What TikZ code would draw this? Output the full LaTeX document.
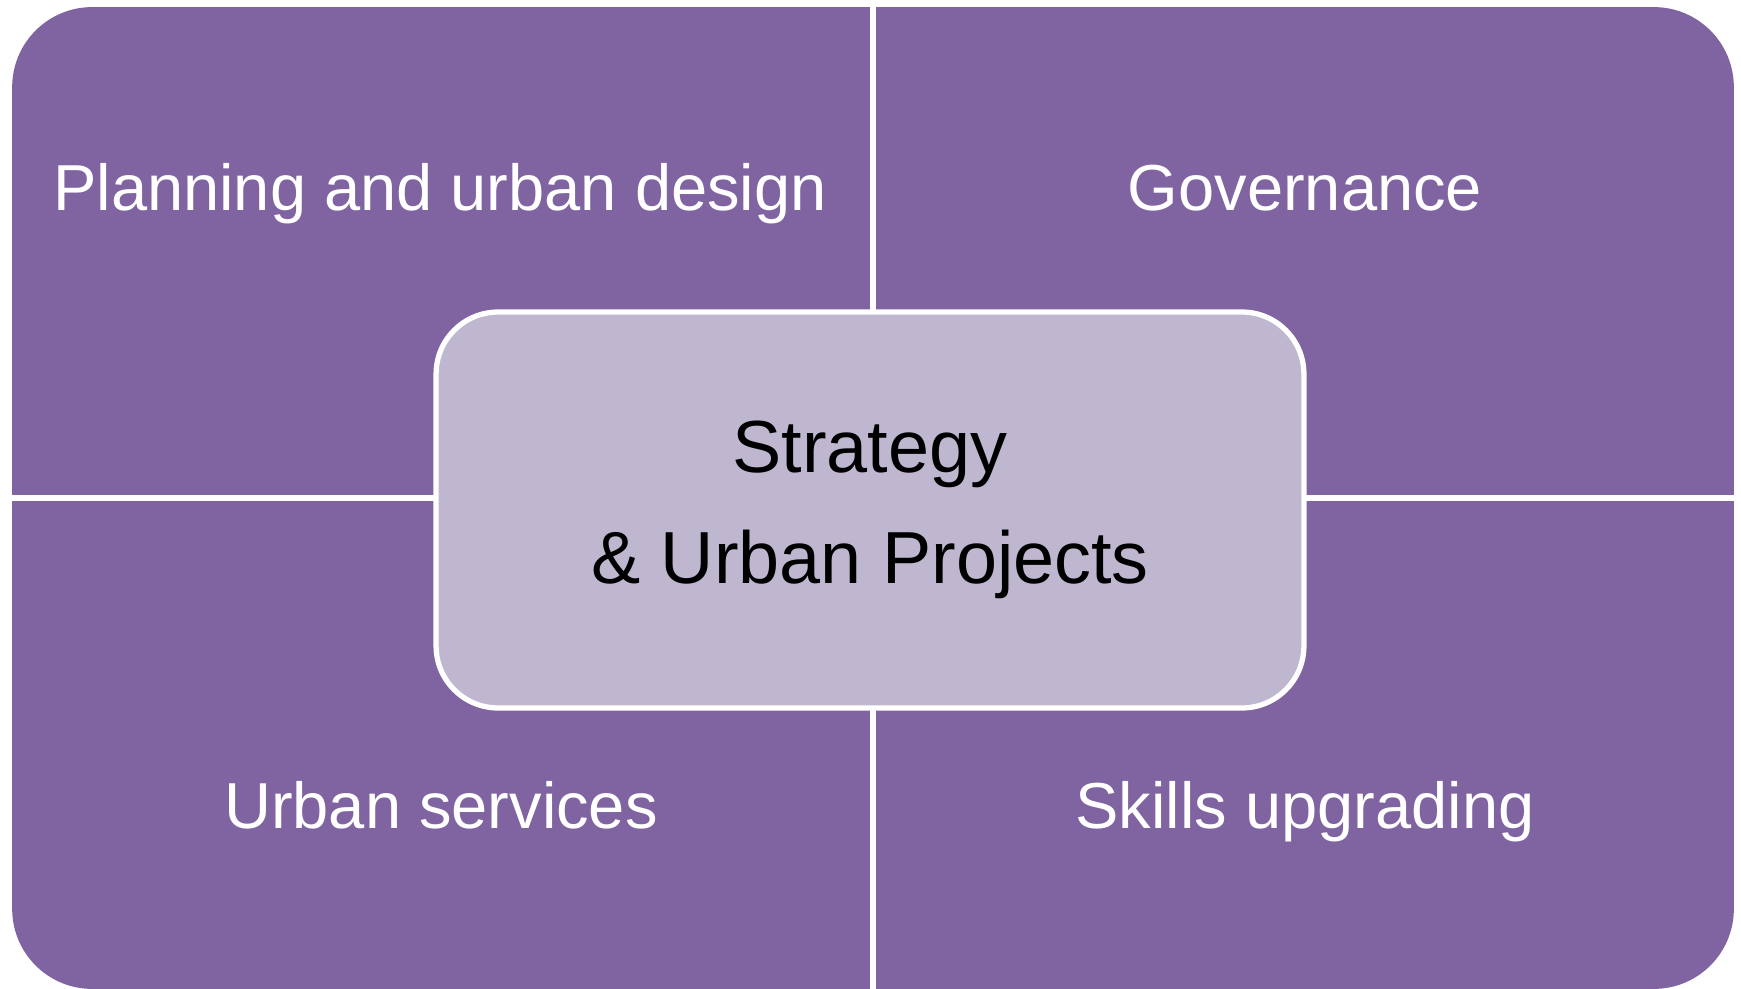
\documentclass[tikz,border=0pt]{standalone}
\usepackage{fontspec}
\setmainfont{Liberation Sans}
\usetikzlibrary{positioning}
\definecolor{quadpurple}{RGB}{128,100,162}
\definecolor{hublilac}{RGB}{191,183,207}

\begin{document}
\begin{tikzpicture}[x=0.02cm, y=-0.02cm,
 outerframe/.style={fill=quadpurple, rounded corners=1.6cm,
          minimum width=34.44cm, minimum height=19.64cm, inner sep=0pt},
 divider/.style={draw=white, line width=3pt},
 hubbox/.style={draw=white, fill=hublilac, line width=3pt,
          rounded corners=1.24cm, minimum width=17.36cm,
          minimum height=7.92cm, align=center, text=black,
          font=\fontsize{42}{63}\selectfont},
 quadlabel/.style={anchor=base, text=white, inner sep=0pt,
          font=\fontsize{37}{44}\selectfont}
]
\useasboundingbox (0,0) rectangle (1741,989);
% Purple frame cut into four quadrants by white gaps
\node[outerframe] (frame) at (873,498) {};
\draw[divider] (frame.north) -- (frame.south);
\draw[divider] (frame.west) -- (frame.east);
% Quadrant labels
\node[quadlabel] (planning) at (440,211) {Planning and urban design};
\node[quadlabel] (governance) at (1305,211) {Governance};
\node[quadlabel] (services) at (441,828) {Urban services};
\node[quadlabel] (skills) at (1305,828) {Skills upgrading};
% Central hub over the crossing
\node[hubbox] (hub) at (870,510) {Strategy\\\& Urban Projects};
\end{tikzpicture}
\end{document}
